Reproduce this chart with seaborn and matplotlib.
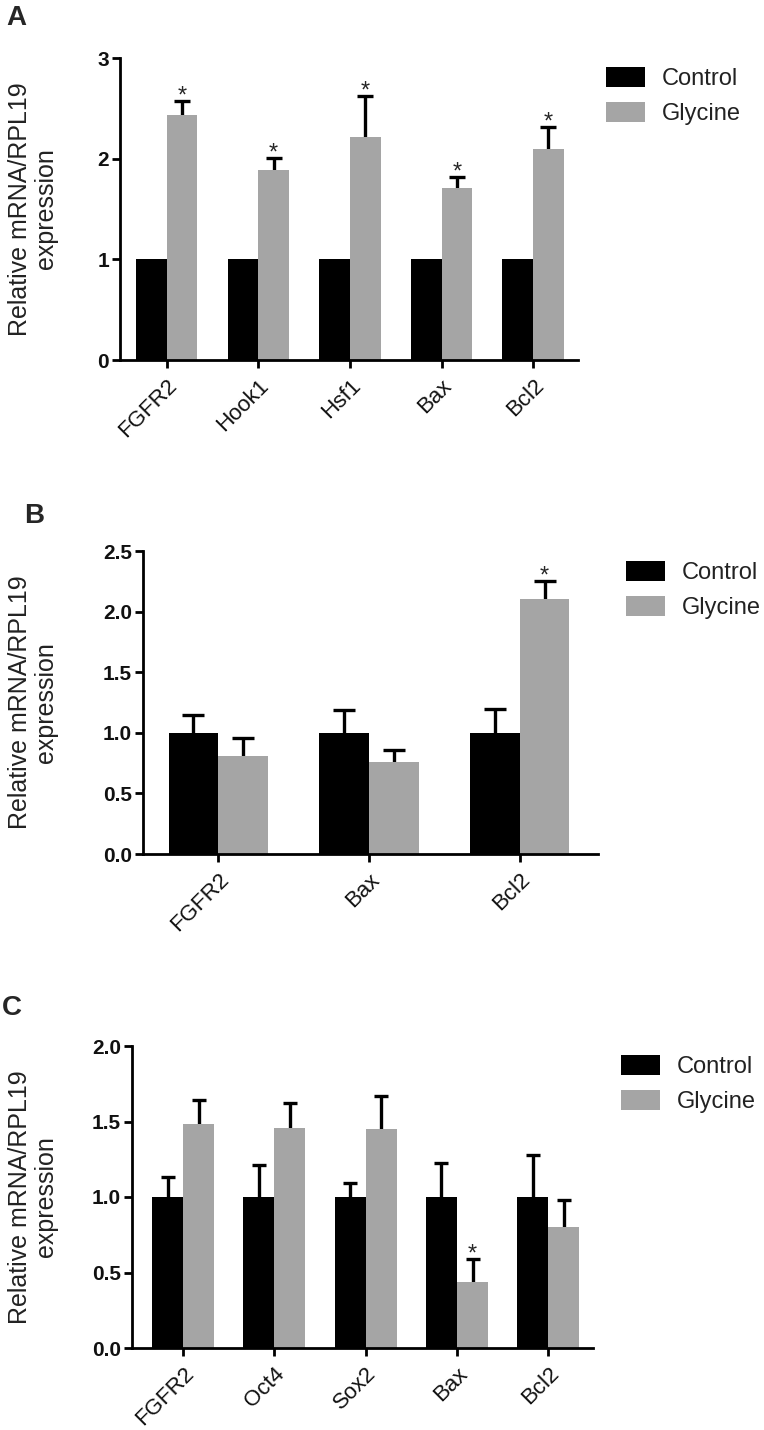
import numpy as np
import pandas as pd
import seaborn as sns
import matplotlib.pyplot as plt
from matplotlib.patches import Patch
from matplotlib.container import BarContainer

# panel A
genes_a = ['FGFR2', 'Hook1', 'Hsf1', 'Bax', 'Bcl2']
ctrl_a = [1.0, 1.0, 1.0, 1.0, 1.0]
ctrl_err_a = [0, 0, 0, 0, 0]
gly_a = [2.43, 1.89, 2.22, 1.71, 2.10]
gly_err_a = [0.14, 0.12, 0.40, 0.11, 0.21]
sig_a = [True, True, True, True, True]

# panel B
genes_b = ['FGFR2', 'Bax', 'Bcl2']
ctrl_b = [1.0, 1.0, 1.0]
ctrl_err_b = [0.15, 0.19, 0.20]
gly_b = [0.81, 0.76, 2.10]
gly_err_b = [0.15, 0.10, 0.15]
sig_b = [False, False, True]

# panel C
genes_c = ['FGFR2', 'Oct4', 'Sox2', 'Bax', 'Bcl2']
ctrl_c = [1.0, 1.0, 1.0, 1.0, 1.0]
ctrl_err_c = [0.13, 0.21, 0.09, 0.225, 0.28]
gly_c = [1.485, 1.46, 1.45, 0.435, 0.80]
gly_err_c = [0.155, 0.16, 0.22, 0.155, 0.18]
sig_c = [False, False, False, True, False]

groups = ['Control', 'Glycine']
colors = ['#000000', '#a5a5a5']

sns.set_style('ticks')
plt.rcParams['font.family'] = ['Liberation Sans', 'DejaVu Sans']

W, H = 764, 1430
fig = plt.figure(figsize=(W / 100, H / 100), dpi=100)


def px_rect(x0, x1, ytop, ybot):
    return [x0 / W, 1 - ybot / H, (x1 - x0) / W, (ybot - ytop) / H]


def panel(rect, genes, ctrl, ctrl_err, gly, gly_err, sig, ylim, yticks, yfmt,
          xlim, capsize, letter, letter_xy, leg_xy, width):
    ax = fig.add_axes(rect)
    df = pd.DataFrame({
        'gene': genes * 2,
        'group': ['Control'] * len(genes) + ['Glycine'] * len(genes),
        'value': list(ctrl) + list(gly),
    })
    sns.barplot(data=df, x='gene', y='value', hue='group', order=genes,
                hue_order=groups, palette=colors, errorbar=None, width=width,
                gap=0, linewidth=0, saturation=1, legend=False, ax=ax,
                zorder=2)

    errs = [ctrl_err, gly_err]
    means = [ctrl, gly]
    bars = [c for c in ax.containers if isinstance(c, BarContainer)]
    for k, cont in enumerate(bars):
        xs = np.array([p.get_x() + p.get_width() / 2 for p in cont.patches])
        m = np.array(means[k])
        e = np.array(errs[k])
        keep = e > 0
        if keep.any():
            # drawn under the bars so only the upper half shows
            ax.errorbar(xs[keep], m[keep], yerr=e[keep],
                        fmt='none', ecolor='black', elinewidth=2.4,
                        capsize=capsize, capthick=2.4, zorder=1)
        if k == 1:
            for x, mv, ev, s in zip(xs, m, e, sig):
                if s:
                    ax.annotate('*', (x, mv + ev), xytext=(0, -1),
                                textcoords='offset points', ha='center',
                                va='baseline', fontsize=17)

    ax.set_ylim(*ylim)
    ax.set_xlim(*xlim)
    ax.set_yticks(yticks)
    ax.set_yticklabels([yfmt.format(v) for v in yticks], fontweight='bold')
    ax.set_xticks(range(len(genes)))
    ax.set_xticklabels(genes, rotation=45, ha='right', rotation_mode='anchor')
    ax.tick_params(axis='both', labelsize=15, width=2, length=6, pad=2,
                   color='black', labelcolor='#111111')
    ax.tick_params(axis='x', labelsize=16, pad=5)
    for s in ['left', 'bottom']:
        ax.spines[s].set_linewidth(2)
        ax.spines[s].set_color('black')
        ax.spines[s].set_zorder(3)
    sns.despine(ax=ax)
    ax.set_xlabel('')
    ax.set_ylabel('Relative mRNA/RPL19\nexpression', fontsize=18,
                  color='#222222', linespacing=1.1)
    ax.yaxis.set_label_coords(-(rect[0] * W - 58) / (rect[2] * W), 0.5)

    fig.text(letter_xy[0] / W, 1 - letter_xy[1] / H, letter, fontsize=20,
             fontweight='bold', ha='left', va='top')

    handles = [Patch(facecolor=c, edgecolor='none') for c in colors]
    ax.legend(handles, groups, loc='center left',
              bbox_to_anchor=(leg_xy[0] / W, 1 - leg_xy[1] / H),
              bbox_transform=fig.transFigure, frameon=False, fontsize=17,
              handlelength=1.65, handleheight=0.9, handletextpad=0.7,
              labelspacing=0.5, borderpad=0, borderaxespad=0,
              labelcolor='#222222')
    return ax


panel(px_rect(120, 578, 58, 360), genes_a, ctrl_a, ctrl_err_a, gly_a, gly_err_a,
      sig_a, (0, 3), [0, 1, 2, 3], '{:.0f}', (-0.51, 4.49), 5.6,
      'A', (6, 5), (606, 96), 0.67)

panel(px_rect(143, 598, 551, 854), genes_b, ctrl_b, ctrl_err_b, gly_b, gly_err_b,
      sig_b, (0, 2.5), [0, 0.5, 1.0, 1.5, 2.0, 2.5], '{:.1f}', (-0.5, 2.52), 7.9,
      'B', (24, 503), (626, 590), 0.66)

panel(px_rect(132, 593, 1046, 1348), genes_c, ctrl_c, ctrl_err_c, gly_c, gly_err_c,
      sig_c, (0, 2.0), [0, 0.5, 1.0, 1.5, 2.0], '{:.1f}', (-0.56, 4.49), 5.3,
      'C', (2, 995), (621, 1084), 0.68)

fig.savefig('out.png', dpi=100)
